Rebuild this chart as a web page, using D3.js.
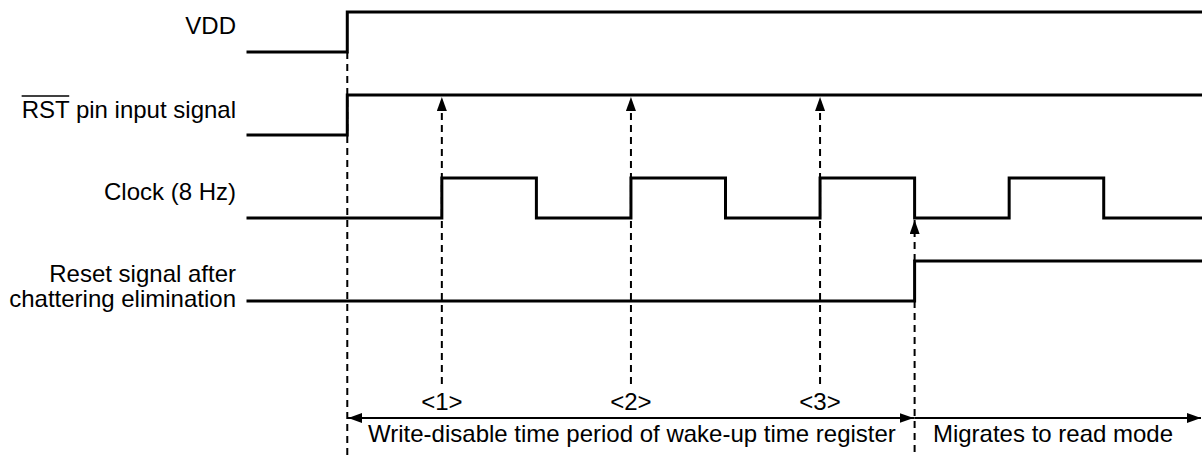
<!DOCTYPE html>
<html><head><meta charset="utf-8">
<script src="https://cdn.jsdelivr.net/npm/d3@7"></script>
<style>body{margin:0;background:#fff}svg{display:block}text{font-family:"Liberation Sans",Arial,sans-serif;font-size:24px;fill:#000}</style>
</head><body><svg id="c" width="1202" height="456"></svg>
<script>
// time unit = half clock period (8 Hz clock)
const signalNames = ["VDD", "RST pin input signal", "Clock (8 Hz)", "Reset signal after chattering elimination"];
const vddSteps   = [[-1.05,0],[0,1],[9.05,1]];
const rstSteps   = [[-1.05,0],[0,1],[9.05,1]];
const clockSteps = [[-1.05,0],[1,1],[2,0],[3,1],[4,0],[5,1],[6,0],[7,1],[8,0],[9.05,0]];
const resetSteps = [[-1.05,0],[6,1],[9.05,1]];
const markerTimes = [1,3,5];
const markerLabels = ["<1>","<2>","<3>"];
const periodLabels = ["Write-disable time period of wake-up time register","Migrates to read mode"];
const periodBounds = [[0,6],[6,9.05]];

const svg = d3.select("#c");
const x = d3.scaleLinear().domain([-1.05, 9.05]).range([248, 1203]);
const rowLow = d3.scaleOrdinal().domain(signalNames).range([52,135,218,301]);
const amp = 40;
const y = (name, v) => rowLow(name) - v*amp;

const defs = svg.append("defs");
defs.append("marker").attr("id","ah").attr("viewBox","0 0 14 10").attr("refX",14).attr("refY",5)
  .attr("markerWidth",14).attr("markerHeight",10).attr("markerUnits","userSpaceOnUse").attr("orient","auto")
  .append("path").attr("d","M0,0L14,5L0,10Z").attr("fill","#000");

const dash = "7,5";
const dw = 2;
// dashed guide at VDD rise
svg.append("line").attr("x1",x(0)).attr("x2",x(0)).attr("y1",rowLow("VDD")).attr("y2",456)
  .attr("stroke","#000").attr("stroke-width",dw).attr("stroke-dasharray",dash);
// dashed arrows from markers up to RST high
markerTimes.forEach(t=>{
  svg.append("line").attr("x1",x(t)).attr("x2",x(t)).attr("y1",384).attr("y2",y("RST pin input signal",1)+2)
    .attr("stroke","#000").attr("stroke-width",dw).attr("stroke-dasharray",dash).attr("marker-end","url(#ah)");
});
// reset rise guide: down to bottom, arrow up to clock low
svg.append("line").attr("x1",x(6)).attr("x2",x(6)).attr("y1",rowLow(signalNames[3])).attr("y2",456)
  .attr("stroke","#000").attr("stroke-width",dw).attr("stroke-dasharray",dash);
svg.append("line").attr("x1",x(6)).attr("x2",x(6)).attr("y1",y(signalNames[3],1)).attr("y2",y("Clock (8 Hz)",0)+2)
  .attr("stroke","#000").attr("stroke-width",dw).attr("stroke-dasharray",dash).attr("marker-end","url(#ah)");

// signals
const line = d3.line().curve(d3.curveStepAfter);
[[signalNames[0],vddSteps],[signalNames[1],rstSteps],[signalNames[2],clockSteps],[signalNames[3],resetSteps]].forEach(([n,s])=>{
  svg.append("path").attr("d",line(s.map(d=>[x(d[0]),y(n,d[1])]))).attr("fill","none")
    .attr("stroke","#000").attr("stroke-width",3).attr("stroke-linejoin","miter").attr("stroke-linecap","square");
});

// labels
const lx = 236;
svg.append("text").attr("x",lx).attr("y",34).attr("text-anchor","end").text("VDD");
const rt = svg.append("text").attr("x",lx).attr("y",118).attr("text-anchor","end");
const rst = rt.append("tspan").text("RST");
rt.append("tspan").text(" pin input signal");
const tb = rt.node().getBBox();
const rstW = rst.node().getComputedTextLength();
svg.append("line").attr("x1",tb.x).attr("x2",tb.x+rstW).attr("y1",96).attr("y2",96).attr("stroke","#000").attr("stroke-width",1.6);
svg.append("text").attr("x",lx).attr("y",200).attr("text-anchor","end").text("Clock (8 Hz)");
svg.append("text").attr("x",lx).attr("y",282).attr("text-anchor","end").text("Reset signal after");
svg.append("text").attr("x",lx).attr("y",307).attr("text-anchor","end").text("chattering elimination");

markerTimes.forEach((t,i)=>{
  svg.append("text").attr("x",x(t)).attr("y",410).attr("text-anchor","middle").text(markerLabels[i]);
});

// period arrows
const ay = 418;
svg.append("line").attr("x1",x(periodBounds[0][1])).attr("x2",x(periodBounds[0][0])+1).attr("y1",ay).attr("y2",ay)
  .attr("stroke","#000").attr("stroke-width",dw).attr("marker-end","url(#ah)");
svg.append("line").attr("x1",x(periodBounds[0][0])).attr("x2",x(periodBounds[0][1])-1).attr("y1",ay).attr("y2",ay)
  .attr("stroke","#000").attr("stroke-width",dw).attr("marker-end","url(#ah)");
svg.append("line").attr("x1",x(periodBounds[1][0])).attr("x2",1201).attr("y1",ay).attr("y2",ay)
  .attr("stroke","#000").attr("stroke-width",dw).attr("marker-end","url(#ah)");
svg.append("text").attr("x",(x(0)+x(6))/2+1).attr("y",442).attr("text-anchor","middle").text(periodLabels[0]);
svg.append("text").attr("x",1053).attr("y",442).attr("text-anchor","middle").text(periodLabels[1]);
</script></body></html>
